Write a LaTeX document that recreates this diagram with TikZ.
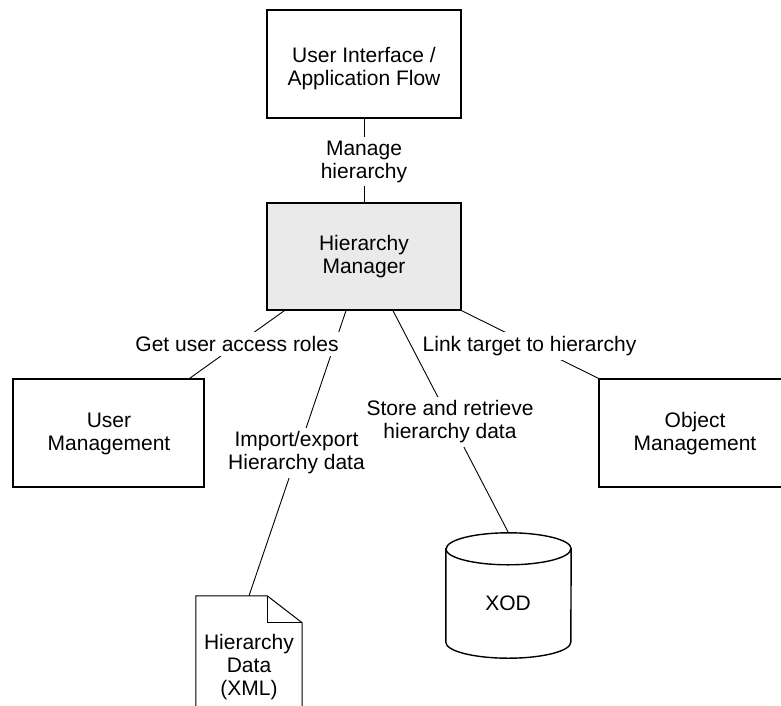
\documentclass[tikz,border=0pt]{standalone}
\usepackage{fontspec}
\setmainfont{Liberation Sans}
\definecolor{mgrfill}{RGB}{234,234,234}
\begin{document}
\begin{tikzpicture}[x=1pt,y=-1pt,
  box/.style={draw, line width=1.4pt, rectangle, inner sep=0pt},
  shapeline/.style={line width=1.4pt},
  docline/.style={line width=1pt},
  txt/.style={font=\fontsize{21}{23}\selectfont, align=center, inner sep=0pt},
  lab/.style={txt, fill=white, inner xsep=3pt, inner ysep=4pt},
  conn/.style={line width=0.9pt}]
\useasboundingbox (0,0) rectangle (781,706);
\clip (0,0) rectangle (781,706);

% boxes
\node[box, minimum width=194pt, minimum height=108pt] (ui) at (364,64) {};
\node[box, fill=mgrfill, minimum width=194pt, minimum height=107pt] (mgr) at (364,256.5) {};
\node[box, minimum width=191pt, minimum height=108pt] (um) at (108.5,433) {};
\node[box, minimum width=192pt, minimum height=108pt] (om) at (695,433) {};
\node[minimum width=125pt, minimum height=125pt, inner sep=0pt] (xod) at (508.5,595.5) {};
\node[minimum width=106pt, minimum height=124pt, inner sep=0pt] (doc) at (249,658) {};

% connectors
\draw[conn] (ui) -- (mgr);
\draw[conn] ([xshift=18pt]mgr.south west) -- ([xshift=-15pt]um.north east);
\draw[conn] ([xshift=-18pt]mgr.south) -- (doc.north);
\draw[conn] ([xshift=29pt]mgr.south) -- (xod.north);
\draw[conn] (mgr.south east) -- (om.north west);

% cylinder
\draw[shapeline, fill=white] ([yshift=-16pt]xod.north west) -- ([yshift=16pt]xod.south west)
  arc[start angle=180, end angle=360, x radius=62.5pt, y radius=16pt]
  -- ([yshift=-16pt]xod.north east)
  arc[start angle=0, end angle=180, x radius=62.5pt, y radius=16pt] -- cycle;
\draw[shapeline] ([yshift=-16pt]xod.north west)
  arc[start angle=180, end angle=360, x radius=62.5pt, y radius=16pt];

% document
\draw[docline, fill=white] (doc.south west) -- (doc.north west) -- ([xshift=-35pt]doc.north east)
  -- ([yshift=-27pt]doc.north east) -- (doc.south east);
\draw[docline] ([xshift=-35pt]doc.north east) -- ([xshift=-35pt,yshift=-27pt]doc.north east)
  -- ([yshift=-27pt]doc.north east);

% texts
\node[txt] (uit) at (364,69) {User Interface /\\Application Flow};
\node[txt] (mgrt) at (364,257) {Hierarchy\\Manager};
\node[txt] (umt) at (109,433.5) {User\\Management};
\node[txt] (omt) at (695,434) {Object\\Management};
\node[txt] (xodt) at (508,603) {XOD};
\node[txt] (doct) at (249,667.5) {Hierarchy\\Data\\(XML)};

% labels
\node[lab] (l1) at (364,161.5) {Manage\\hierarchy};
\node[lab, anchor=base] (l2) at (237,351.7) {Get user access roles};
\node[lab, anchor=base] (l3) at (529.5,351.7) {Link target to hierarchy};
\node[lab] (l5) at (450,422) {Store and retrieve\\hierarchy data};
\node[lab] (l4) at (296.5,453) {Import/export\\Hierarchy data};
\end{tikzpicture}
\end{document}
